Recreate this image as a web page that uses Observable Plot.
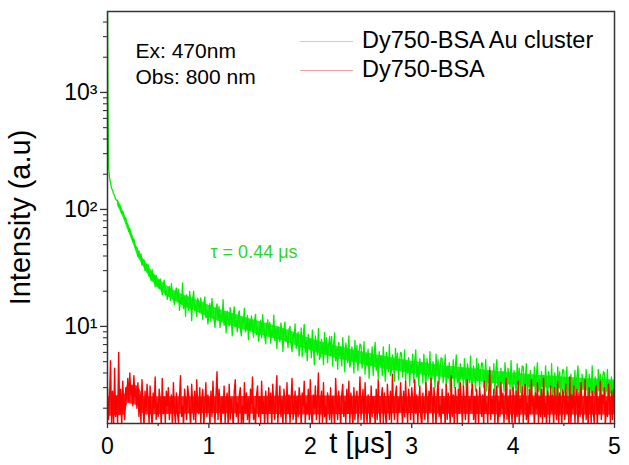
<!DOCTYPE html>
<html>
<head>
<meta charset="utf-8">
<script src="https://cdn.jsdelivr.net/npm/d3@7"></script>
<script src="https://cdn.jsdelivr.net/npm/@observablehq/plot@0.6"></script>
<style>
  html, body { margin: 0; padding: 0; background: #fff; }
  #wrap { position: relative; width: 629px; height: 465px; font-family: "Liberation Sans", Arial, sans-serif; }
  #legend { position: absolute; left: 300px; top: 26px; font-size: 23.5px; color: #000; }
  .row { display: flex; align-items: center; height: 29px; }
  .sw { width: 53px; height: 0; border-top: 1px solid; margin-right: 9px; margin-top: 2px; }
</style>
</head>
<body>
<div id="wrap"><div id="legend"></div></div>
<script>
// ---- data ----
const seriesNames = ["Dy750-BSA Au cluster", "Dy750-BSA"];
const seriesColors = ["#00ee00", "#ff0000"];

// green (Au cluster): fast initial part, explicit times (μs)
const greenEarlyT = [0, 0.004, 0.008, 0.012, 0.02, 0.03, 0.04, 0.05, 0.06, 0.07, 0.08, 0.09];
const greenEarlyV = [5600, 1000, 420, 225, 188, 168, 152, 146, 136, 131, 122, 120];
// green from 0.10 μs on, channel width 0.01 μs
const greenStart = 0.10;
const greenStep = 0.01;
const greenV = [
  118, 107, 111, 99, 92, 97, 90, 82, 85, 76,
  75, 65, 69, 60, 60, 53, 56, 50, 46, 48,
  39.5, 44.5, 38.1, 41.7, 33.3, 36.5, 37.0, 30.0, 33.9, 29.7,
  34.0, 26.8, 29.8, 24.6, 30.7, 24.9, 27.6, 21.9, 27.3, 22.1,
  24.8, 21.1, 25.5, 21.6, 18.6, 22.9, 24.9, 18.5, 20.3, 17.0,
  19.0, 22.0, 16.7, 23.2, 19.4, 17.3, 15.4, 19.9, 21.3, 16.9,
  20.8, 13.7, 17.5, 15.7, 23.5, 14.2, 17.9, 12.2, 18.6, 15.5,
  13.8, 19.9, 16.7, 11.2, 17.4, 20.0, 13.7, 15.1, 12.2, 17.4,
  16.0, 13.2, 17.5, 14.1, 11.5, 15.8, 17.9, 11.9, 13.7, 10.5,
  12.7, 15.7, 11.0, 17.4, 13.6, 11.4, 9.8, 14.1, 15.6, 11.6,
  14.8, 9.8, 12.5, 11.2, 16.9, 10.2, 12.9, 8.8, 13.5, 11.3,
  10.1, 14.5, 12.2, 8.3, 12.7, 14.7, 10.1, 11.1, 9.0, 12.8,
  13.6, 9.5, 8.3, 11.8, 10.9, 14.3, 9.0, 9.9, 12.4, 7.7,
  11.1, 9.2, 12.3, 9.9, 8.1, 11.2, 12.7, 8.5, 9.8, 7.5,
  9.1, 11.3, 8.0, 12.6, 9.9, 8.3, 7.1, 10.3, 11.4, 8.5,
  10.9, 7.2, 9.3, 8.3, 12.5, 7.6, 9.5, 6.5, 9.9, 8.3,
  7.4, 10.7, 9.0, 6.1, 9.4, 10.9, 7.5, 8.3, 6.6, 9.5,
  10.0, 7.0, 6.1, 8.6, 8.0, 10.5, 6.5, 7.2, 9.0, 5.6,
  6.8, 9.7, 5.5, 8.4, 10.4, 6.0, 7.5, 5.1, 8.6, 6.6,
  7.8, 5.4, 9.3, 6.6, 4.7, 8.3, 7.1, 5.7, 9.6, 5.2,
  5.6, 7.8, 6.7, 4.7, 8.9, 5.9, 8.0, 4.9, 6.9, 8.2,
  5.7, 8.2, 4.6, 7.1, 8.8, 5.1, 6.4, 4.3, 7.3, 5.7,
  6.7, 4.6, 8.0, 5.7, 4.1, 7.2, 6.2, 4.9, 8.3, 4.5,
  4.8, 6.7, 5.8, 4.0, 7.6, 5.1, 6.9, 4.2, 5.9, 7.1,
  6.9, 4.4, 5.3, 7.4, 3.9, 5.8, 4.6, 6.4, 3.6, 5.4,
  4.7, 6.7, 3.8, 5.9, 7.3, 4.2, 5.3, 3.6, 6.1, 4.7,
  5.6, 3.8, 6.7, 4.7, 3.4, 6.0, 5.2, 4.1, 7.0, 3.8,
  4.1, 5.7, 4.9, 3.4, 6.5, 4.3, 5.9, 3.5, 5.0, 6.0,
  5.9, 3.7, 4.5, 6.3, 3.4, 5.0, 4.0, 5.4, 3.1, 4.7,
  4.0, 5.8, 3.3, 5.1, 6.3, 3.7, 4.6, 3.1, 5.3, 4.1,
  4.9, 3.3, 5.8, 4.1, 3.0, 5.3, 4.5, 3.6, 6.1, 3.4,
  3.6, 5.0, 4.3, 3.0, 5.8, 3.9, 5.2, 3.2, 4.5, 5.4,
  5.3, 3.3, 4.0, 5.7, 3.0, 4.5, 3.6, 4.9, 2.8, 4.2,
  3.6, 5.2, 3.0, 4.6, 5.7, 3.3, 4.1, 2.8, 4.8, 3.7,
  4.4, 3.0, 5.3, 3.8, 2.7, 4.8, 4.1, 3.3, 5.6, 3.1,
  3.3, 4.6, 3.9, 2.8, 5.3, 3.5, 4.8, 2.9, 4.1, 4.9,
  4.8, 3.0, 3.7, 5.2, 2.8, 4.1, 3.3, 4.5, 2.6, 3.8,
  3.3, 4.8, 2.7, 4.2, 5.2, 3.0, 3.8, 2.6, 4.4, 3.4,
  4.1, 2.8, 4.9, 3.5, 2.5, 4.4, 3.8, 3.0, 5.1, 2.8,
  3.0, 4.2, 3.6, 2.6, 4.8, 3.2, 4.4, 2.7, 3.8, 4.6,
  4.5, 2.8, 3.4, 4.8, 2.6, 3.8, 3.0, 4.2, 2.4, 3.6,
  3.1, 4.5, 2.5, 3.9, 4.9, 2.8, 3.5, 2.4, 4.1, 3.2,
  3.8, 2.6, 4.6, 3.2, 2.3, 4.1, 3.5, 2.9, 4.8, 2.6,
  2.8, 4.0, 3.4, 2.4, 4.5, 3.0, 4.1, 2.5, 3.6, 4.3,
  4.2, 2.7, 3.2, 4.5, 2.4, 3.6, 2.9, 3.9, 2.2, 3.4,
  2.9, 4.2, 2.4, 3.7, 4.6, 2.7, 3.3, 2.3, 3.9, 3.0,
  3.6, 2.5, 4.3, 3.1, 2.2, 3.9, 3.4, 2.7, 4.6, 2.5,
  2.7, 3.7, 3.2, 2.3, 4.3, 2.9, 3.9, 2.4, 3.4, 4.1,
  4.0, 2.5, 3.0, 4.3, 2.3, 3.4, 2.7, 3.7, 2.1, 3.2, 3.5
];
// dense core of the green noise band (edges)
const greenBandT  = [0.1, 0.15, 0.2, 0.25, 0.3, 0.35, 0.4, 0.45, 0.5, 0.6, 0.7, 0.8, 0.9, 1.0, 1.25, 1.5, 1.75, 2.0, 2.5, 3.0, 3.5, 4.0, 4.5, 5.0];
const greenBandLo = [107, 87, 67, 52, 39.5, 33, 27.5, 23.8, 21.2, 18.0, 15.7, 14.2, 13.1, 11.9, 9.9, 8.5, 7.4, 6.2, 4.75, 3.95, 3.5, 3.15, 2.9, 2.72];
const greenBandHi = [123, 99.5, 77, 60, 45.5, 38.5, 33.5, 28.7, 25.8, 21.8, 19.4, 17.9, 16.6, 15.2, 12.8, 11.0, 9.5, 7.9, 6.1, 5.05, 4.45, 4.0, 3.7, 3.48];

// red (BSA) background, channel width 0.01 μs from 0
const redStart = 0;
const redStep = 0.01;
const redV = [
  3.0, 1.6, 2.4, 5.1, 1.5, 2.8, 1.4, 4.4, 1.7, 2.5,
  1.5, 6.0, 1.8, 2.9, 1.4, 3.4, 2.2, 1.6, 3.0, 2.4,
  3.6, 2.3, 4.0, 2.6, 3.1, 2.1, 3.8, 2.5, 2.9, 2.0,
  3.3, 1.7, 2.6, 1.5, 3.5, 2.2, 1.4, 2.8, 1.9, 3.2,
  2.4, 1.5, 3.1, 1.9, 1.4, 2.7, 2.0, 3.7, 1.6, 2.2,
  1.7, 2.9, 2.3, 1.4, 3.6, 1.8, 2.5, 1.5, 2.8, 2.1,
  3.0, 1.6, 2.2, 2.6, 1.4, 3.3, 1.9, 1.5, 2.7, 1.8,
  1.5, 2.5, 3.8, 1.7, 2.1, 1.4, 2.9, 2.3, 1.6, 3.1,
  2.6, 1.9, 1.4, 3.2, 2.2, 1.6, 2.8, 1.5, 3.5, 2.0,
  1.8, 3.0, 1.5, 2.4, 2.9, 1.4, 2.1, 3.3, 1.7, 2.6,
  2.2, 1.4, 2.8, 1.7, 3.4, 2.0, 1.5, 2.6, 4.1, 1.6,
  2.9, 2.1, 1.4, 2.5, 1.8, 3.1, 1.5, 2.3, 2.7, 1.4,
  3.2, 1.6, 2.4, 1.9, 1.4, 2.8, 3.5, 1.7, 2.2, 1.5,
  2.6, 3.0, 1.5, 2.1, 1.4, 3.3, 1.8, 2.7, 1.6, 2.4,
  1.4, 2.9, 2.2, 3.7, 1.6, 2.0, 1.4, 2.6, 3.1, 1.7,
  2.5, 1.5, 3.4, 1.8, 2.3, 1.4, 2.8, 2.0, 1.5, 3.0,
  1.9, 2.7, 1.4, 3.2, 2.1, 1.6, 2.5, 3.8, 1.5, 2.2,
  3.1, 1.7, 2.4, 1.4, 2.9, 2.2, 1.5, 3.3, 1.8, 2.6,
  1.5, 2.3, 3.6, 1.6, 2.0, 2.8, 1.4, 2.5, 1.7, 3.0,
  2.4, 1.4, 2.7, 2.1, 3.4, 1.5, 2.2, 1.8, 2.9, 1.6,
  3.5, 1.8, 1.4, 2.6, 2.0, 3.1, 1.6, 2.4, 4.0, 1.5,
  2.2, 2.8, 1.5, 3.3, 1.7, 2.1, 1.4, 2.7, 2.3, 1.6,
  3.0, 1.5, 2.5, 1.9, 1.4, 3.6, 2.2, 1.6, 2.8, 2.0,
  1.4, 2.6, 3.2, 1.7, 2.3, 1.5, 2.9, 1.8, 3.4, 1.5,
  2.7, 2.0, 1.4, 3.0, 1.6, 2.4, 2.8, 1.5, 2.2, 3.7,
  1.6, 2.3, 2.9, 1.4, 3.3, 1.9, 1.5, 2.6, 2.1, 1.4,
  3.1, 1.7, 2.5, 2.2, 1.4, 2.9, 1.6, 3.5, 2.0, 1.5,
  2.4, 3.0, 1.5, 2.7, 1.8, 1.4, 3.2, 2.3, 1.6, 2.8,
  1.5, 3.9, 2.1, 1.6, 2.6, 3.1, 1.4, 2.4, 1.9, 3.3,
  2.2, 1.4, 2.8, 1.7, 3.4, 2.0, 1.5, 2.9, 2.3, 1.6,
  3.0, 2.4, 1.4, 3.5, 1.8, 2.6, 1.5, 2.2, 3.1, 1.7,
  1.4, 2.7, 2.0, 1.6, 3.3, 2.3, 1.5, 2.8, 1.9, 3.6,
  2.5, 1.5, 3.0, 2.2, 1.4, 2.6, 3.4, 1.7, 2.1, 1.5,
  2.9, 1.8, 2.4, 1.4, 3.2, 1.6, 2.7, 2.0, 1.5, 3.8,
  1.7, 2.6, 1.4, 3.0, 2.3, 1.5, 2.9, 1.8, 3.3, 2.1,
  1.5, 3.1, 2.2, 1.6, 2.7, 3.5, 1.4, 2.4, 1.9, 2.8,
  3.2, 1.6, 2.5, 1.4, 2.9, 2.1, 1.5, 3.0, 2.3, 1.7,
  2.6, 1.4, 3.4, 1.9, 2.2, 1.5, 2.8, 4.2, 1.6, 2.4,
  1.8, 2.9, 1.5, 2.6, 3.1, 1.4, 2.3, 1.7, 3.3, 2.0,
  2.7, 1.5, 2.2, 3.6, 1.6, 2.5, 1.4, 2.9, 2.1, 1.5,
  3.0, 2.3, 1.4, 2.8, 1.7, 3.4, 1.5, 2.4, 2.0, 3.1,
  1.5, 2.6, 3.2, 1.6, 2.2, 1.4, 2.9, 1.8, 3.5, 2.1,
  2.4, 1.4, 2.7, 2.0, 3.3, 1.5, 2.5, 1.7, 2.9, 1.5,
  3.6, 1.7, 2.2, 1.4, 2.8, 2.4, 1.5, 3.1, 1.9, 2.6,
  1.4, 3.0, 2.1, 1.6, 3.4, 1.5, 2.7, 2.2, 1.4, 2.9,
  2.5, 1.6, 3.2, 1.8, 2.3, 1.4, 3.7, 1.5, 2.6, 2.0,
  3.1, 1.5, 2.4, 2.9, 1.4, 2.7, 1.7, 3.3, 2.1, 1.5,
  2.2, 3.5, 1.6, 2.5, 1.4, 3.0, 2.3, 1.5, 2.8, 1.9,
  1.5, 2.7, 3.1, 1.4, 2.4, 1.8, 3.4, 1.6, 2.6, 2.2,
  3.0, 1.4, 2.3, 1.7, 3.2, 2.5, 1.5, 2.8, 1.6, 2.9, 2.2
];
// dense core of the red noise band (edges)
const redBandT  = [0, 0.17, 0.2, 0.3, 0.36, 1, 2, 3, 4, 5];
const redBandLo = [1.7, 1.75, 2.2, 2.1, 1.75, 1.8, 1.75, 1.8, 1.75, 1.75];
const redBandHi = [2.5, 2.6, 3.2, 3.1, 2.5, 2.5, 2.55, 2.5, 2.55, 2.5];

// axes
const xDomain = [0, 5];
const yDomain = [1.48, 4920];
const xMajorTicks = [0, 1, 2, 3, 4, 5];
const xMinorTicks = [0.5, 1.5, 2.5, 3.5, 4.5];
const yMajorTicks = [10, 100, 1000];
const yMajorLabels = ["10\u00b9", "10\u00b2", "10\u00b3"];
const yMinorTicks = [2, 3, 4, 5, 6, 7, 8, 9, 20, 30, 40, 50, 60, 70, 80, 90, 200, 300, 400, 500, 600, 700, 800, 900, 2000, 3000, 4000];
const xLabel = "t [\u03bcs]";
const yLabel = "Intensity (a.u)";
const noteLines = ["Ex: 470nm", "Obs: 800 nm"];
const tauNote = "\u03c4 = 0.44 \u03bcs";

// ---- build tables ----
const green = greenEarlyT.map((t, i) => ({t, v: greenEarlyV[i]}))
  .concat(greenV.map((v, i) => ({t: +(greenStart + i * greenStep).toFixed(4), v})));
const red = redV.map((v, i) => ({t: +(redStart + i * redStep).toFixed(4), v}));
const greenBand = greenBandT.map((t, i) => ({t, lo: greenBandLo[i], hi: greenBandHi[i]}));
const redBand = redBandT.map((t, i) => ({t, lo: redBandLo[i], hi: redBandHi[i]}));

const font = '"Liberation Sans", Arial, sans-serif';

const chart = Plot.plot({
  width: 629,
  height: 465,
  marginLeft: 107,
  marginRight: 15,
  marginTop: 11,
  marginBottom: 42,
  style: {fontFamily: font, color: "#000", background: "#fff", overflow: "visible"},
  x: {domain: xDomain, label: null},
  y: {type: "log", domain: yDomain, label: null},
  marks: [
    Plot.areaY(greenBand, {x: "t", y1: "lo", y2: "hi", fill: seriesColors[0], fillOpacity: 0.85, curve: "monotone-x", clip: true}),
    Plot.line(green, {x: "t", y: "v", stroke: seriesColors[0], strokeWidth: 1.3, clip: true}),
    Plot.areaY(redBand, {x: "t", y1: "lo", y2: "hi", fill: seriesColors[1], fillOpacity: 0.85, clip: true}),
    Plot.line(red, {x: "t", y: "v", stroke: seriesColors[1], strokeWidth: 1.4, clip: true}),
    Plot.frame({stroke: "#333", strokeWidth: 1.5}),
    Plot.axisX({ticks: xMajorTicks, tickSize: 5, tickPadding: 9, fontSize: 23, stroke: "#333", strokeWidth: 1.3, tickFormat: d => String(d), label: null}),
    Plot.axisX({ticks: xMinorTicks, tickSize: 3, stroke: "#333", strokeWidth: 1.2, text: null, label: null}),
    Plot.axisY({ticks: yMajorTicks, tickSize: 7, tickPadding: 3, fontSize: 23, stroke: "#333", strokeWidth: 1.3, tickFormat: d => yMajorLabels[yMajorTicks.indexOf(d)], label: null}),
    Plot.axisY({ticks: yMinorTicks, tickSize: 4, stroke: "#333", strokeWidth: 1.1, text: null, label: null}),
    Plot.text([xLabel], {frameAnchor: "bottom", dy: 20, textAnchor: "middle", lineAnchor: "middle", fontSize: 29, fill: "#000"}),
    Plot.text([yLabel], {frameAnchor: "left", dx: -87, rotate: -90, textAnchor: "middle", lineAnchor: "middle", fontSize: 29, fill: "#000"}),
    Plot.text([noteLines[0]], {frameAnchor: "top-left", dx: 28, dy: 46, textAnchor: "start", lineAnchor: "bottom", fontSize: 21, fill: "#000"}),
    Plot.text([noteLines[1]], {frameAnchor: "top-left", dx: 28, dy: 72, textAnchor: "start", lineAnchor: "bottom", fontSize: 21, fill: "#000"}),
    Plot.text([tauNote], {frameAnchor: "top-left", dx: 103, dy: 246, textAnchor: "start", lineAnchor: "bottom", fontSize: 18, fill: "#2bd62b"})
  ]
});

const wrap = document.getElementById("wrap");
wrap.insertBefore(chart, wrap.firstChild);

const legend = document.getElementById("legend");
const legendSwatch = ["#9fe89f", "#f2a0a0"];
seriesNames.forEach((name, i) => {
  const row = document.createElement("div");
  row.className = "row";
  const sw = document.createElement("span");
  sw.className = "sw";
  sw.style.borderColor = legendSwatch[i];
  const tx = document.createElement("span");
  tx.textContent = name;
  row.appendChild(sw);
  row.appendChild(tx);
  legend.appendChild(row);
});
</script>
</body>
</html>
